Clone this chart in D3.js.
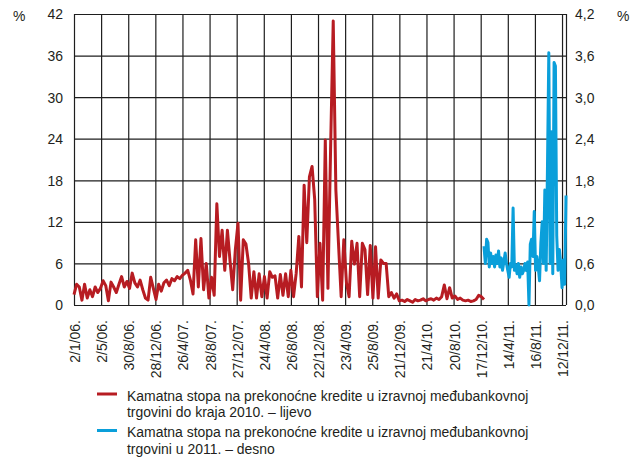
<!DOCTYPE html>
<html>
<head>
<meta charset="utf-8">
<script src="https://cdn.jsdelivr.net/npm/d3@7"></script>
<style>
  body { margin: 0; background: #fff; }
  .chart text { font-family: "Liberation Sans", Arial, sans-serif; font-size: 15.5px; fill: #231f20; }
  .grid line { stroke: #1e1e1e; stroke-width: 1.2; }
  .grid path { display: none; }
  .axis path, .axis line { display: none; }
</style>
</head>
<body>
<div class="chart"></div>
<script>
// x axis labels, one every 82 trading days
var tickLabels = ["2/1/06.", "2/5/06.", "30/8/06.", "28/12/06.", "26/4/07.", "28/8/07.",
  "27/12/07.", "24/4/08.", "26/8/08.", "22/12/08.", "23/4/09.", "25/8/09.", "21/12/09.",
  "21/4/10.", "20/8/10.", "17/12/10.", "14/4/11.", "16/8/11.", "12/12/11."];
var dayStep = 82;
var lastDay = 1488;

var leftTicks = [0, 6, 12, 18, 24, 30, 36, 42];
var rightTicks = [0, 0.6, 1.2, 1.8, 2.4, 3.0, 3.6, 4.2];

// overnight rate until end of 2010 (left axis), one value every 8 days
var redStart = 0, redStep = 8;
var redValues = [
  1.5, 3.0, 2.6, 0.7, 3.0, 1.0, 2.2, 1.2, 2.6, 1.8,
  2.4, 3.5, 2.8, 0.6, 3.3, 2.6, 1.8, 3.0, 4.1, 2.6,
  3.4, 2.4, 4.6, 3.2, 2.6, 3.6, 2.2, 1.0, 0.7, 4.0,
  2.4, 0.8, 3.0, 2.0, 3.2, 3.6, 2.8, 3.8, 3.5, 4.1,
  3.8, 4.3, 4.6, 5.0, 3.6, 1.6, 9.4, 2.6, 9.6, 2.2,
  6.0, 1.0, 4.0, 1.4, 14.6, 7.0, 10.8, 5.0, 10.8, 6.3,
  2.2, 8.0, 11.8, 0.7, 9.4, 8.8, 6.0, 1.0, 4.8, 1.0,
  4.5, 1.2, 4.1, 1.0, 4.8, 4.0, 4.2, 1.0, 4.4, 1.4,
  4.5, 1.2, 5.0, 1.2, 4.6, 9.9, 2.6, 17.3, 9.0, 18.5,
  20.0, 15.2, 1.2, 8.9, 0.7, 23.8, 2.4, 22.4, 41.0, 16.6,
  8.8, 1.2, 9.4, 3.2, 1.2, 9.2, 5.9, 8.9, 1.2, 8.9,
  8.0, 1.5, 8.6, 1.0, 8.4, 1.0, 6.5, 6.0, 6.0, 1.2,
  1.8, 1.0, 1.6, 0.6, 0.7, 0.5, 0.8, 0.6, 0.4, 0.8,
  0.6, 0.7, 0.9, 0.6, 0.8, 0.9, 0.7, 1.0, 0.8, 1.2,
  2.9, 0.9, 2.5, 1.0, 1.3, 0.8, 1.0, 0.7, 0.6, 0.7,
  0.5, 0.6, 0.8, 1.4, 1.2, 0.8
];

// overnight rate in 2011 (right axis), one value every 4 days
var blueStart = 1240, blueStep = 4;
var blueValues = [
  0.85, 0.6, 0.95, 0.9, 0.55, 0.75, 0.6, 0.7, 0.55, 0.72,
  0.6, 0.78, 0.55, 0.68, 0.5, 0.62, 0.75, 0.6, 0.5, 0.4,
  0.6, 0.55, 1.4, 0.5, 0.58, 0.45, 0.6, 0.4, 0.55, 0.45,
  0.5, 0.6, 0.5, 0.62, 0.0, 0.88, 0.95, 0.7, 1.35, 0.5,
  0.7, 0.55, 0.35, 0.9, 1.2, 0.6, 1.66, 0.5, 2.0, 3.64,
  0.6, 2.5, 0.45, 3.5, 3.45, 1.0, 0.5, 0.8, 0.6, 0.25,
  0.65, 0.3, 1.58
];

var legendLabels = [
  ["Kamatna stopa na prekonoćne kredite u izravnoj međubankovnoj", "trgovini do kraja 2010. – lijevo"],
  ["Kamatna stopa na prekonoćne kredite u izravnoj međubankovnoj", "trgovini u 2011. – desno"]
];

var margin = { top: 14, right: 74, bottom: 152, left: 74 };
var width = 640 - margin.left - margin.right;
var height = 457 - margin.top - margin.bottom;
var narrow = " scale(0.9,1)"; // the original type is a bit condensed

var x = d3.scaleLinear().domain([0, lastDay]).range([0, width]);
var yL = d3.scaleLinear().domain([0, 42]).range([height, 0]);
var yR = d3.scaleLinear().domain([0, 4.2]).range([height, 0]);

var tickDays = tickLabels.map(function(d, i) { return i * dayStep; });

var svg = d3.select(".chart").append("svg")
    .attr("width", 640)
    .attr("height", 457)
  .append("g")
    .attr("transform", "translate(" + margin.left + "," + margin.top + ")");

// grid
svg.append("g")
  .attr("class", "grid")
  .call(d3.axisLeft(yL).tickValues(leftTicks).tickSize(-width).tickFormat(""));

svg.append("g")
  .attr("class", "grid")
  .attr("transform", "translate(0," + height + ")")
  .call(d3.axisBottom(x).tickValues(tickDays.concat([lastDay])).tickSize(-height).tickFormat(""));

// axes labels
svg.append("g")
  .attr("class", "axis")
  .call(d3.axisLeft(yL).tickValues(leftTicks).tickSize(0))
  .selectAll("text")
    .attr("x", 0)
    .attr("transform", "translate(-11,0)" + narrow);

svg.append("g")
  .attr("class", "axis")
  .attr("transform", "translate(" + width + ",0)")
  .call(d3.axisRight(yR).tickValues(rightTicks).tickSize(0)
    .tickFormat(function(d) { return d3.format(".1f")(d).replace(".", ","); }))
  .selectAll("text")
    .attr("x", 0)
    .attr("transform", "translate(9,0)" + narrow);

svg.append("g")
  .attr("class", "axis")
  .attr("transform", "translate(0," + height + ")")
  .call(d3.axisBottom(x).tickValues(tickDays).tickSize(0)
    .tickFormat(function(d, i) { return tickLabels[i]; }))
  .selectAll("text")
    .attr("transform", "translate(0,15) rotate(-90)" + narrow)
    .attr("x", 0)
    .attr("y", 0)
    .attr("dy", "0.35em")
    .style("text-anchor", "end");

svg.append("text").attr("transform", "translate(-61,6.7)" + narrow).text("%");
svg.append("text").attr("transform", "translate(" + (width + 51) + ",6.7)" + narrow).text("%");

// series
var redLine = d3.line()
  .x(function(d, i) { return x(redStart + i * redStep); })
  .y(function(d) { return yL(d); });

var blueLine = d3.line()
  .x(function(d, i) { return x(blueStart + i * blueStep); })
  .y(function(d) { return yR(d); });

svg.append("path")
  .datum(redValues)
  .attr("fill", "none")
  .attr("stroke", "#b71c22")
  .attr("stroke-width", 3)
  .attr("stroke-linejoin", "round")
  .attr("d", redLine);

svg.append("path")
  .datum(blueValues)
  .attr("fill", "none")
  .attr("stroke", "#0a9fda")
  .attr("stroke-width", 3)
  .attr("stroke-linejoin", "round")
  .attr("d", blueLine);

// legend
var legend = svg.append("g").attr("transform", "translate(23,380)");
var colors = ["#b71c22", "#0a9fda"];
legendLabels.forEach(function(lines, i) {
  var g = legend.append("g").attr("transform", "translate(0," + (i * 36.5) + ")");
  g.append("line")
    .attr("x1", 0).attr("x2", 20)
    .attr("stroke", colors[i]).attr("stroke-width", 3);
  lines.forEach(function(t, j) {
    g.append("text")
      .attr("transform", "translate(30," + (6.5 + j * 16.6) + ")" + narrow)
      .text(t);
  });
});
</script>
</body>
</html>
